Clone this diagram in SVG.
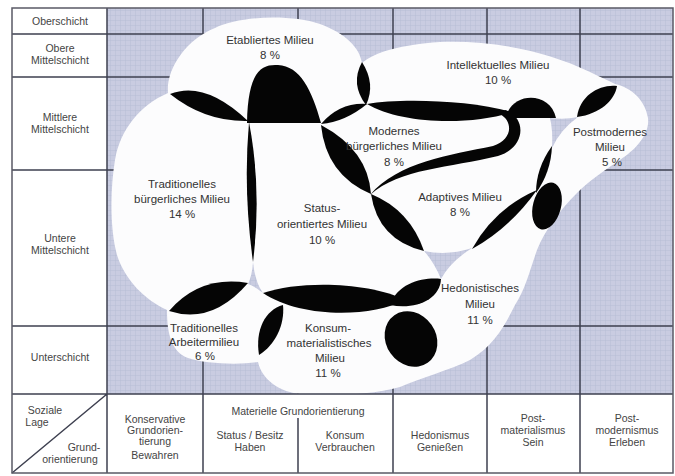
<svg xmlns="http://www.w3.org/2000/svg" width="675" height="476" viewBox="0 0 675 476">
<defs>
<pattern id="grid" width="5" height="5" patternUnits="userSpaceOnUse">
<rect width="5" height="5" fill="#c9cce1"/>
<path d="M0,0.25H5M0.25,0V5" stroke="#b6bad4" stroke-width="0.6" fill="none"/>
</pattern>
<style>
.gl{stroke:#3e4050;stroke-width:1.5;fill:none}
.fr{stroke:#5a5a66;stroke-width:1.5;fill:none}
.blk{fill:#050505}
.t{font-family:"Liberation Sans",Arial,sans-serif;fill:#333;text-anchor:middle}
.m{font-size:11.5px}
.s{font-size:10.5px;fill:#444}
</style>
</defs>
<rect width="675" height="476" fill="#ffffff"/>
<g id="background">
<rect x="107" y="8" width="566" height="386" fill="url(#grid)"/>
</g>
<g id="grid-lines">
<path class="gl" d="M12,34H673M12,77H673M12,170H673M12,326H673M203,8V473M298,8V394M393,8V473M487,8V473M580,8V473"/>
</g>
<g id="milieu-area">
<path fill="#fcfcfd" d="M168,93 C166,70 185,40 215,28 C240,16 290,14 320,24 C345,33 360,48 362,63 C375,52 400,45 440,42 C490,40 545,50 590,72 C600,77 608,80 615,84 C632,88 645,100 648,118 C650,135 635,150 620,160 C605,170 590,180 577,193 C560,210 545,230 537,250 C530,270 525,290 515,305 C505,325 495,345 470,360 C450,370 420,378 400,387 C370,396 320,396 300,394 C280,392 262,380 258,362 C240,365 205,364 188,358 C172,352 167,335 167,310 C145,300 125,280 117,255 C110,230 110,190 115,160 C120,130 140,105 168,93 Z"/>
<path fill="url(#grid)" d="M253,262 Q255,282 263,293 Q254,286 248,284 Q252,276 253,262 Z"/>
<path fill="url(#grid)" d="M424,251 Q448,256 472,248 Q450,262 441,279 Q434,262 424,251 Z"/>
<path fill="url(#grid)" d="M550,118 Q565,120 578,117 Q560,130 552,148 Q553,130 550,118 Z"/>
</g>
<g id="overlaps">
<path class="blk" d="M170,94 Q205,80 248,121 Q205,122 170,94 Z"/>
<path class="blk" d="M247,123 C248,70 262,64 278,65 C300,66 312,90 321,123 Z"/>
<path class="blk" d="M249,122 Q262,190 253,262 Q243,190 249,122 Z"/>
<path class="blk" d="M362,62 Q376,84 366,105 Q350,84 362,62 Z"/>
<path class="blk" d="M321,124 Q340,102 367,104 Q345,122 321,124 Z"/>
<path class="blk" d="M367,104 C400,98 470,100 512,112 C470,126 400,124 367,104 Z"/>
<path class="blk" d="M505,110 C528,118 525,148 498,156 C450,168 400,168 370,195 C398,162 450,155 493,146 C512,140 514,122 500,114 Z"/>
<path class="blk" d="M321,125 Q368,150 371,194 Q326,175 321,125 Z"/>
<path class="blk" d="M371,194 Q410,210 424,251 Q378,240 371,194 Z"/>
<path class="blk" d="M506,118 C510,92 550,90 556,118 Z"/>
<path class="blk" d="M577,117 C580,95 600,84 617,86 C615,100 600,114 577,117 Z"/>
<path class="blk" d="M552,146 Q551,172 536,193 Q536,168 552,146 Z"/>
<ellipse class="blk" cx="547" cy="206" rx="14" ry="24" transform="rotate(15 547 206)"/>
<path class="blk" d="M537,190 Q510,228 472,249 Q495,208 537,190 Z"/>
<path class="blk" d="M169,311 Q200,275 248,283 Q212,325 169,311 Z"/>
<path class="blk" d="M259,355 C255,330 265,310 283,305 C285,325 275,345 259,355 Z"/>
<path class="blk" d="M263,293 C300,280 370,282 405,300 C370,318 300,318 263,293 Z"/>
<path class="blk" d="M390,305 C398,282 425,277 441,279 C440,300 415,310 390,305 Z"/>
<ellipse class="blk" cx="411" cy="339" rx="25" ry="29" transform="rotate(-35 411 339)"/>
</g>
<g id="table-frame">
<path class="gl" d="M12,394H673M107,8V473M298,418V473M12,473L107,394"/>
<rect class="fr" x="12" y="8" width="661" height="465"/>
</g>
<g id="row-labels">
<text class="t s" x="60" y="25">Oberschicht</text>
<text class="t s" x="60" y="52">Obere</text>
<text class="t s" x="60" y="64">Mittelschicht</text>
<text class="t s" x="60" y="121">Mittlere</text>
<text class="t s" x="60" y="133">Mittelschicht</text>
<text class="t s" x="60" y="242">Untere</text>
<text class="t s" x="60" y="254">Mittelschicht</text>
<text class="t s" x="60" y="361">Unterschicht</text>
<text class="t s" x="45" y="414">Soziale</text>
<text class="t s" x="37" y="426">Lage</text>
<text class="t s" x="84" y="451">Grund-</text>
<text class="t s" x="70" y="463">orientierung</text>
</g>
<g id="column-labels">
<text class="t s" x="155" y="423">Konservative</text>
<text class="t s" x="155" y="434">Grundorien-</text>
<text class="t s" x="155" y="445">tierung</text>
<text class="t s" x="155" y="459">Bewahren</text>
<text class="t s" x="298" y="415">Materielle Grundorientierung</text>
<text class="t s" x="250" y="439">Status / Besitz</text>
<text class="t s" x="250" y="451">Haben</text>
<text class="t s" x="345" y="439">Konsum</text>
<text class="t s" x="345" y="451">Verbrauchen</text>
<text class="t s" x="440" y="439">Hedonismus</text>
<text class="t s" x="440" y="451">Genießen</text>
<text class="t s" x="533" y="422">Post-</text>
<text class="t s" x="533" y="434">materialismus</text>
<text class="t s" x="533" y="446">Sein</text>
<text class="t s" x="627" y="422">Post-</text>
<text class="t s" x="627" y="434">modernismus</text>
<text class="t s" x="627" y="446">Erleben</text>
</g>
<g id="etabliertes">
<text class="t m" x="270" y="44">Etabliertes Milieu</text>
<text class="t m" x="270" y="59">8 %</text>
</g>
<g id="intellektuelles">
<text class="t m" x="498" y="69">Intellektuelles Milieu</text>
<text class="t m" x="498" y="84">10 %</text>
</g>
<g id="postmodernes">
<text class="t m" x="610" y="136">Postmodernes</text>
<text class="t m" x="610" y="151">Milieu</text>
<text class="t m" x="612" y="166">5 %</text>
</g>
<g id="modernes">
<text class="t m" x="394" y="135">Modernes</text>
<text class="t m" x="394" y="150">bürgerliches Milieu</text>
<text class="t m" x="394" y="166">8 %</text>
</g>
<g id="adaptives">
<text class="t m" x="460" y="201">Adaptives Milieu</text>
<text class="t m" x="460" y="216">8 %</text>
</g>
<g id="traditionelles-buergerliches">
<text class="t m" x="182" y="188">Traditionelles</text>
<text class="t m" x="182" y="203">bürgerliches Milieu</text>
<text class="t m" x="182" y="218">14 %</text>
</g>
<g id="statusorientiertes">
<text class="t m" x="322" y="212">Status-</text>
<text class="t m" x="322" y="228">orientiertes Milieu</text>
<text class="t m" x="322" y="244">10 %</text>
</g>
<g id="hedonistisches">
<text class="t m" x="480" y="292">Hedonistisches</text>
<text class="t m" x="480" y="308">Milieu</text>
<text class="t m" x="480" y="324">11 %</text>
</g>
<g id="traditionelles-arbeitermilieu">
<text class="t m" x="204" y="332">Traditionelles</text>
<text class="t m" x="204" y="346">Arbeitermilieu</text>
<text class="t m" x="205" y="360">6 %</text>
</g>
<g id="konsum-materialistisches">
<text class="t m" x="328" y="332">Konsum-</text>
<text class="t m" x="329" y="347">materialistisches</text>
<text class="t m" x="330" y="362">Milieu</text>
<text class="t m" x="328" y="377">11 %</text>
</g>
</svg>
